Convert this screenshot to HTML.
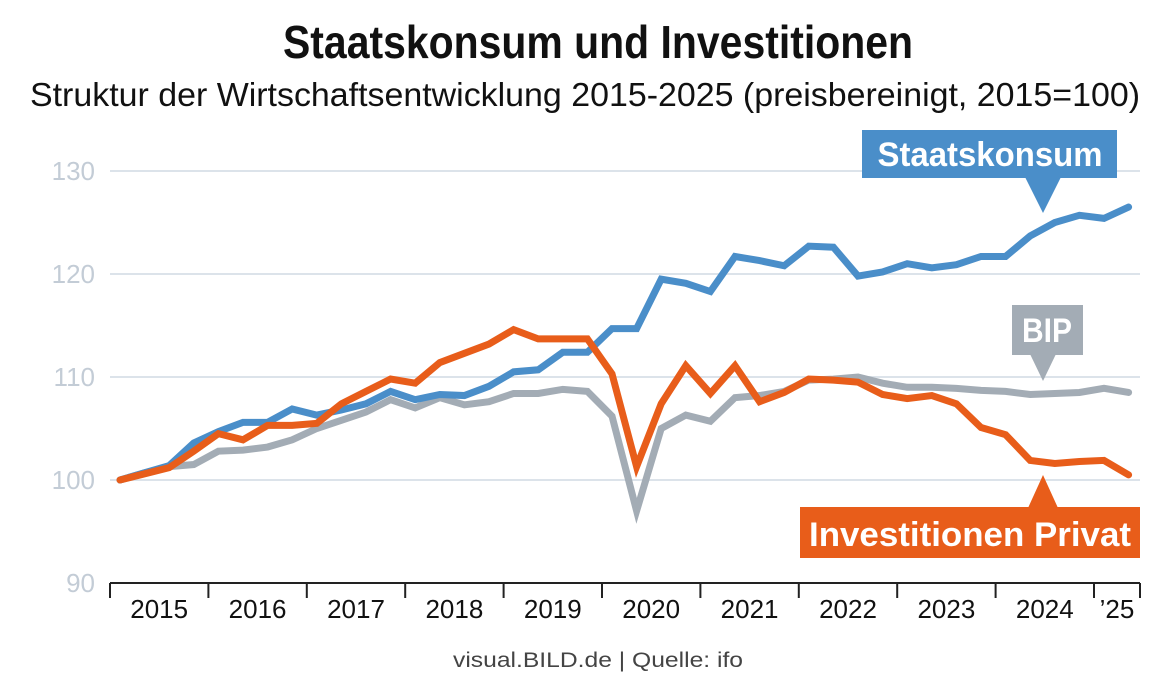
<!DOCTYPE html>
<html><head><meta charset="utf-8"><style>
body{margin:0;background:#fff;width:1170px;height:695px;overflow:hidden;font-family:"Liberation Sans",sans-serif}
</style></head><body>
<svg width="1170" height="695" id="c" font-family="Liberation Sans, sans-serif">
<text x="598" y="58" text-anchor="middle" font-size="46" font-weight="bold" fill="#111" textLength="630" lengthAdjust="spacingAndGlyphs">Staatskonsum und Investitionen</text>
<text x="585" y="106" text-anchor="middle" font-size="33" fill="#111" textLength="1110" lengthAdjust="spacingAndGlyphs">Struktur der Wirtschaftsentwicklung 2015-2025 (preisbereinigt, 2015=100)</text>
<g id="grid"></g><g id="lines"></g>
<g>
<rect x="862" y="130" width="255" height="48" fill="#4a8ec9"/><polygon points="1025,177 1061,177 1043,213" fill="#4a8ec9"/>
<text x="990" y="166" text-anchor="middle" font-size="34" font-weight="bold" fill="#fff" textLength="225" lengthAdjust="spacingAndGlyphs">Staatskonsum</text></g>
<g>
<rect x="1012" y="305" width="71" height="50" fill="#a3acb5"/><polygon points="1030,354 1056,354 1043,381" fill="#a3acb5"/>
<text x="1047" y="342" text-anchor="middle" font-size="34" font-weight="bold" fill="#fff" textLength="50" lengthAdjust="spacingAndGlyphs">BIP</text></g>
<g>
<rect x="800" y="507" width="340" height="51" fill="#e85d1a"/><polygon points="1028,508 1058,508 1043,475" fill="#e85d1a"/>
<text x="970" y="546" text-anchor="middle" font-size="34" font-weight="bold" fill="#fff" textLength="322" lengthAdjust="spacingAndGlyphs">Investitionen Privat</text></g>
<text x="598" y="667" text-anchor="middle" font-size="21" fill="#444" textLength="290" lengthAdjust="spacingAndGlyphs">visual.BILD.de | Quelle: ifo</text>
</svg>
<script>
const yTicks=[90,100,110,120,130];
const yearLabels=["2015","2016","2017","2018","2019","2020","2021","2022","2023","2024","’25"];
const staat=[100,100.7,101.4,103.6,104.7,105.6,105.6,106.9,106.3,106.8,107.4,108.6,107.8,108.3,108.2,109.1,110.5,110.7,112.4,112.4,114.7,114.7,119.5,119.1,118.3,121.7,121.3,120.8,122.7,122.6,119.8,120.2,121.0,120.6,120.9,121.7,121.7,123.7,125.0,125.7,125.4,126.5];
const invest=[100,100.6,101.2,102.8,104.5,103.9,105.3,105.3,105.5,107.4,108.6,109.8,109.4,111.4,112.3,113.2,114.6,113.7,113.7,113.7,110.3,101.3,107.4,111.1,108.4,111.1,107.6,108.5,109.8,109.7,109.5,108.3,107.9,108.2,107.4,105.1,104.4,101.9,101.6,101.8,101.9,100.5];
const bip=[100,100.7,101.3,101.5,102.8,102.9,103.2,103.9,105.0,105.8,106.6,107.8,107.0,108.0,107.3,107.6,108.4,108.4,108.8,108.6,106.2,97.0,105.0,106.3,105.7,108.0,108.2,108.6,109.7,109.8,110.0,109.4,109.0,109.0,108.9,108.7,108.6,108.3,108.4,108.5,108.9,108.5];
const NS="http://www.w3.org/2000/svg";
const yS=v=>480-(v-100)*10.3;
const xS=i=>120+i*24.6;
const yearX=i=>110+i*98.4;
function mk(t,a,p){const e=document.createElementNS(NS,t);for(const k in a)e.setAttribute(k,a[k]);p.appendChild(e);return e;}
const g=document.getElementById('grid');
yTicks.forEach(v=>{
 if(v>90){const l=mk('line',{x1:110,x2:1140,y1:yS(v),y2:yS(v),stroke:'#dce3ea','stroke-width':2},g);
 
 }
 const t=mk('text',{x:95,y:yS(v)+9,'text-anchor':'end','font-size':26,fill:'#c3ccd6'},g);t.textContent=v;
 
 
});
const ax=mk('line',{x1:110,x2:1140,y1:583,y2:583,stroke:'#222','stroke-width':2},g);


for(let i=0;i<=yearLabels.length;i++){
 const x=i<yearLabels.length?yearX(i):1140;
 const tk=mk('line',{x1:x,x2:x,y1:583,y2:598,stroke:'#222','stroke-width':2},g);
 
 
 if(i<yearLabels.length){
  const w=i==yearLabels.length-1?(1140-x):98.4;
  const t=mk('text',{x:x+w/2,y:618,'text-anchor':'middle','font-size':26,fill:'#111'},g);t.textContent=yearLabels[i];
  
  
 }
}
const L=document.getElementById('lines');
[[bip,'#a3acb5','line-bip'],[staat,'#4a8ec9','line-staatskonsum'],[invest,'#e85d1a','line-investitionen-privat']].forEach(([d,c,n])=>{
 const p=mk('polyline',{points:d.map((v,i)=>xS(i)+','+yS(v)).join(' '),fill:'none',stroke:c,'stroke-width':7,'stroke-linejoin':'miter','stroke-linecap':'round'},L);
 
 
});
</script>
</body></html>
